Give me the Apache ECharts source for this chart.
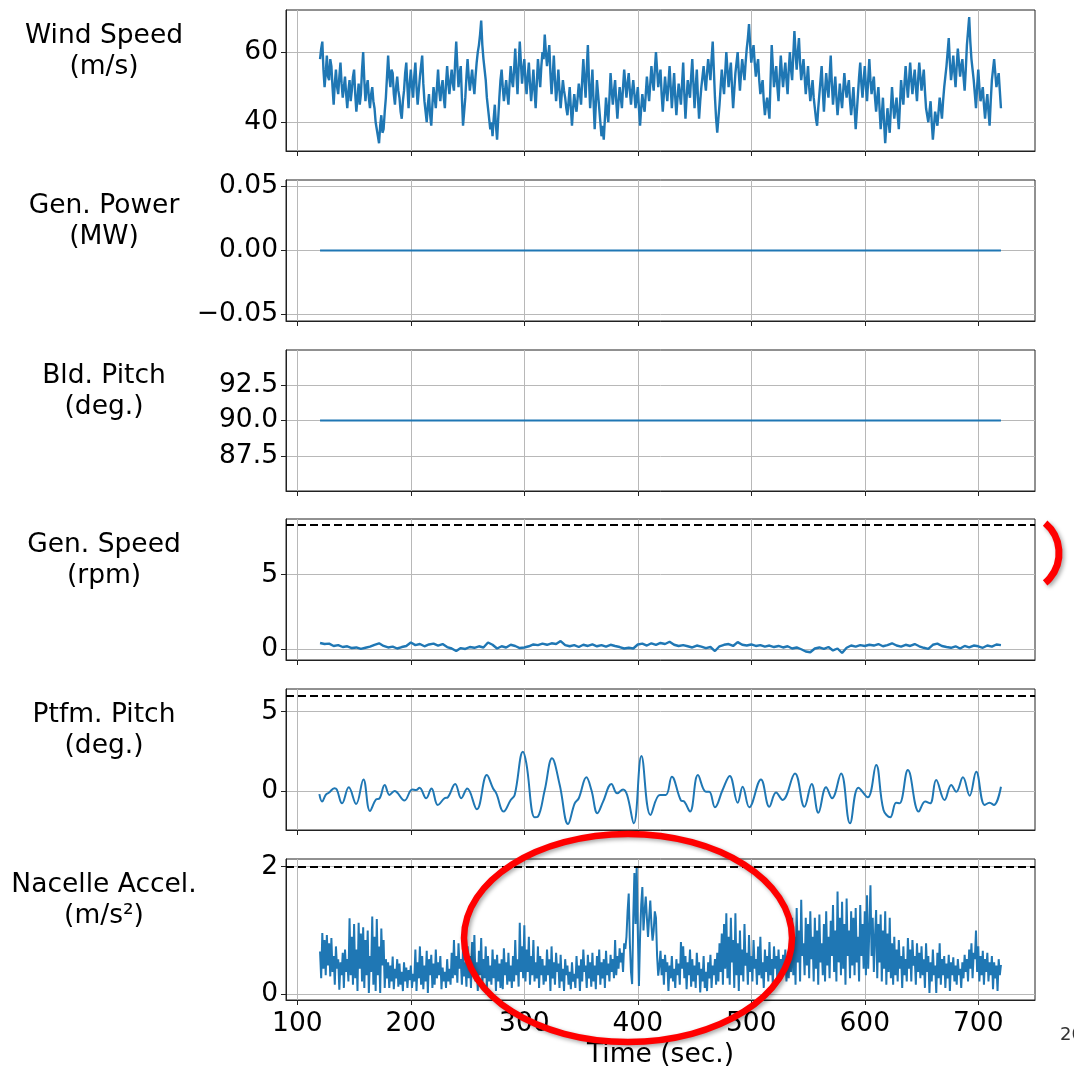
<!DOCTYPE html>
<html>
<head>
<meta charset="utf-8">
<script src="https://cdn.jsdelivr.net/npm/echarts@6/dist/echarts.min.js"></script>
<style>
html, body { margin: 0; padding: 0; background: #fff; }
#chart { width: 1074px; height: 1070px; }
</style>
</head>
<body>
<div id="chart"></div>
<script>
// ---- data ----
const xTicks = [100, 200, 300, 400, 500, 600, 700];

// wind speed (m/s), one value every 1 s from t = 120
const windStart = 120, windStep = 1;
const windSpeed = [
  58, 61, 63, 55, 50, 54, 59, 53, 52, 58, 56, 50, 45, 51, 55, 50, 48, 53, 57, 51,
  47, 50, 53, 48, 44, 49, 52, 46, 49, 53, 55, 48, 43, 47, 51, 45, 48, 55, 60, 52,
  46, 50, 52, 47, 44, 48, 50, 46, 44, 40, 38, 36, 34, 39, 42, 37, 38, 43, 47, 53,
  59, 53, 50, 55, 54, 48, 45, 50, 53, 49, 47, 43, 41, 46, 49, 54, 57, 50, 44, 51,
  55, 50, 47, 53, 57, 50, 45, 49, 53, 56, 59, 51, 46, 43, 40, 45, 48, 42, 39, 45,
  50, 47, 44, 50, 55, 49, 46, 50, 52, 47, 44, 51, 56, 51, 48, 52, 55, 51, 49, 57,
  63, 56, 50, 54, 56, 47, 39, 43, 47, 53, 58, 53, 49, 52, 55, 51, 48, 53, 57, 60,
  62, 65, 69, 62, 58, 55, 52, 47, 44, 41, 38, 40, 36, 41, 45, 39, 35, 41, 47, 52,
  55, 50, 46, 49, 52, 48, 45, 51, 56, 52, 50, 55, 61, 54, 48, 56, 63, 57, 51, 55,
  58, 52, 48, 53, 57, 51, 46, 50, 55, 49, 44, 51, 58, 54, 50, 56, 60, 58, 65, 60,
  56, 59, 62, 54, 48, 53, 59, 52, 46, 50, 55, 49, 44, 48, 52, 49, 47, 44, 42, 46,
  50, 44, 39, 44, 48, 45, 43, 47, 51, 48, 45, 52, 58, 52, 47, 55, 62, 52, 44, 49,
  55, 46, 38, 45, 52, 48, 44, 40, 36, 39, 35, 41, 47, 43, 40, 47, 54, 49, 45, 49,
  52, 46, 41, 46, 50, 47, 44, 50, 55, 51, 47, 51, 54, 49, 45, 49, 52, 48, 44, 47,
  50, 44, 39, 44, 48, 45, 43, 48, 53, 49, 46, 51, 56, 52, 49, 55, 60, 55, 50, 53,
  55, 48, 43, 48, 53, 49, 46, 51, 56, 50, 44, 49, 54, 47, 42, 47, 51, 48, 45, 51,
  57, 48, 41, 47, 52, 49, 47, 53, 58, 51, 44, 50, 55, 47, 41, 46, 50, 53, 56, 52,
  49, 54, 58, 55, 52, 58, 63, 55, 47, 41, 37, 41, 45, 50, 55, 51, 48, 54, 60, 55,
  50, 54, 57, 50, 44, 49, 54, 57, 60, 54, 49, 54, 58, 55, 52, 57, 61, 64, 68, 62,
  57, 60, 62, 57, 53, 56, 58, 52, 48, 50, 52, 46, 42, 45, 47, 44, 41, 52, 62, 56,
  50, 53, 56, 50, 46, 53, 59, 54, 50, 54, 57, 52, 48, 55, 60, 55, 52, 59, 66, 60,
  55, 60, 64, 57, 52, 55, 58, 53, 48, 52, 56, 50, 46, 49, 52, 47, 44, 41, 39, 44,
  48, 52, 56, 49, 43, 49, 54, 50, 47, 53, 59, 51, 45, 49, 53, 47, 42, 46, 51, 47,
  44, 49, 54, 50, 47, 50, 52, 46, 42, 46, 50, 44, 38, 43, 48, 53, 57, 51, 47, 52,
  56, 50, 46, 52, 58, 52, 48, 51, 53, 47, 43, 47, 50, 44, 38, 42, 47, 40, 34, 39,
  44, 40, 37, 44, 50, 45, 41, 44, 47, 42, 38, 45, 52, 48, 45, 51, 56, 51, 47, 52,
  57, 52, 48, 52, 55, 50, 46, 52, 57, 53, 49, 52, 55, 49, 44, 42, 40, 43, 46, 40,
  35, 39, 43, 41, 39, 43, 47, 44, 41, 46, 50, 53, 56, 60, 64, 57, 52, 55, 59, 54,
  50, 56, 61, 57, 53, 56, 58, 53, 49, 55, 62, 66, 70, 63, 58, 55, 52, 48, 44, 50,
  55, 50, 46, 48, 50, 45, 41, 45, 48, 43, 39, 46, 52, 55, 58, 54, 50, 52, 54, 49,
  44
];

// generator power and blade pitch are flat
const genPowerT = [120, 720];
const genPower = [0, 0];
const bldPitchT = [120, 720];
const bldPitch = [90, 90];

// generator speed (rpm), one value every 4 s from t = 120
const genStart = 120, genStep = 4;
const genSpeed = [
  0.42, 0.35, 0.38, 0.22, 0.28, 0.15, 0.2, 0.08, 0.12, 0.02,
  0.1, 0.18, 0.3, 0.4, 0.22, 0.12, 0.18, 0.05, 0.15, 0.22,
  0.45, 0.28, 0.35, 0.2, 0.32, 0.38, 0.25, 0.35, 0.15, 0.05,
  -0.12, 0.08, 0.02, 0.15, 0.1, 0.2, 0.12, 0.45, 0.3, 0.05,
  0.2, 0.12, 0.3, 0.22, 0.08, 0.12, 0.2, 0.32, 0.28, 0.38,
  0.3, 0.4, 0.35, 0.55, 0.28, 0.2, 0.28, 0.15, 0.3, 0.22,
  0.32, 0.2, 0.28, 0.18, 0.3, 0.22, 0.15, 0.05, 0.1, 0.05,
  0.32, 0.38, 0.25, 0.4, 0.3, 0.42, 0.35, 0.5, 0.3, 0.22,
  0.28, 0.2, 0.12, 0.25, 0.18, 0.08, 0.15, -0.12, 0.2, 0.3,
  0.35, 0.22, 0.48, 0.3, 0.25, 0.32, 0.22, 0.28, 0.18, 0.25,
  0.15, 0.22, 0.12, 0.2, 0.05, 0.12, 0.0, -0.15, -0.2, 0.05,
  0.12, 0.02, 0.15, -0.08, 0.05, -0.25, 0.1, 0.25, 0.18, 0.28,
  0.22, 0.3, 0.25, 0.35, 0.2, 0.28, 0.4, 0.25, 0.18, 0.3,
  0.22, 0.35, 0.2, 0.1, 0.02, 0.3, 0.38, 0.22, 0.15, 0.1,
  0.2, 0.05, 0.22, 0.12, 0.25, 0.2, 0.1, 0.25, 0.18, 0.32,
  0.28
];
const genSpeedLimit = 8.32;

// platform pitch (deg), read at its turning points
const ptfmT = [
  119.4, 121.8, 125, 128, 132.6, 134.7, 139.4, 145.3, 151.8, 158.2,
  164, 169.4, 172.4, 177, 181.2, 185.6, 194.4, 201.2, 204.7, 207.6,
  213.5, 218.2, 223.8, 229.7, 232.6, 239.1, 244.4, 249.7, 258.2, 267,
  272.4, 275.3, 281.8, 288, 291.5, 298.8, 301.8, 309.1, 312, 318,
  324.4, 331.2, 338.5, 344.4, 348, 354.7, 359.1, 364.4, 369.4, 376.8,
  381.8, 387, 390.6, 396.5, 403.2, 411.2, 419.4, 424.7, 430, 438,
  441, 446, 453, 460, 463, 468, 474.7, 481, 488, 492.4,
  498.2, 508.5, 515.9, 521.8, 527.6, 538.5, 546.8, 553.2, 559.1, 565.9,
  571.2, 579.1, 587, 594.4, 602.6, 610, 616.5, 622.4, 627.6, 630.6,
  638, 647.6, 653.2, 657.6, 662.9, 670.3, 676.2, 680.6, 686.5, 692.4,
  698.2, 705.6, 710, 713.8, 720
];
const ptfmPitch = [
  -0.2, -0.67, -0.25, -0.1, 0.17, 0.1, -0.78, 0.23, -0.82, 0.73,
  -1.26, -0.53, -0.47, 0.38, -0.25, 0.0, -0.6, 0.1, 0.06, 0.2,
  -0.46, 0.15, -0.88, -0.46, -0.4, 0.44, -0.46, 0.15, -1.15, 1.0,
  0.17, -0.15, -1.3, -0.57, -0.25, 2.48, 1.74, -1.66, -1.62, 0.06,
  2.06, 0.38, -2.08, -0.78, -0.46, 0.86, 0.06, -1.4, -0.67, 0.44,
  -0.15, 0.1, -0.25, -2.04, 2.2, -1.51, -0.25, -0.25, 0.9, -0.6,
  -0.67, -1.3, 1.0, -0.05, -0.05, -1.03, 0.06, 0.95, -0.74, 0.27,
  -1.03, 0.73, -1.0, -0.1, -0.57, 1.11, -1.0, 0.44, -1.37, 0.23,
  -0.46, 1.11, -2.04, 0.21, -0.4, 1.64, -1.2, -1.66, -0.74, -0.78,
  1.32, -1.3, -0.67, -0.78, 0.69, -0.57, 0.38, -0.05, 0.86, -0.3,
  1.22, -0.88, -0.74, -0.88, 0.27
];
const ptfmLimit = 6;

// nacelle acceleration (m/s^2), one value every 1 s from t = 120
const nacStart = 120, nacStep = 1;
const nacelleAcc = [
  0.67, 0.25, 0.96, 0.4, 0.85, 0.3, 0.93, 0.45, 0.8, 0.28,
  0.88, 0.35, 0.6, 0.15, 0.75, 0.4, 0.55, 0.07, 0.5, 0.3,
  0.65, 0.1, 0.7, 0.35, 0.55, 0.2, 1.19, 0.3, 0.9, 0.15,
  1.1, 0.25, 0.7, 0.05, 1.12, 0.4, 0.95, 0.2, 1.05, 0.1,
  0.85, 0.3, 1.0, 0.02, 0.6, 0.35, 1.22, 0.15, 0.9, 0.05,
  1.18, 0.3, 0.75, 0.02, 1.03, 0.45, 0.85, 0.1, 0.55, 0.25,
  0.5, 0.1, 0.45, 0.2, 0.59, 0.08, 0.4, 0.25, 0.55, 0.12,
  0.48, 0.15, 0.35, 0.05, 0.5, 0.2, 0.42, 0.1, 0.38, 0.22,
  0.45, 0.1, 0.32, 0.2, 0.7, 0.05, 0.5, 0.25, 0.75, 0.15,
  0.6, 0.08, 0.45, 0.2, 0.68, 0.02, 0.55, 0.3, 0.62, 0.1,
  0.48, 0.15, 0.7, 0.25, 0.5, 0.3, 0.6, 0.08, 0.42, 0.2,
  0.35, 0.1, 0.55, 0.2, 0.4, 0.15, 0.65, 0.25, 0.85, 0.3,
  0.6, 0.18, 0.8, 0.4, 0.55, 0.15, 0.72, 0.28, 0.5, 0.12,
  0.75, 0.25, 0.6, 0.1, 0.82, 0.3, 0.93, 0.2, 0.5, 0.05,
  0.68, 0.3, 0.88, 0.15, 0.55, 0.25, 0.75, 0.1, 0.6, 0.2,
  0.45, 0.15, 0.7, 0.25, 0.55, 0.05, 0.62, 0.2, 0.48, 0.1,
  0.55, 0.08, 0.72, 0.3, 0.5, 0.15, 0.65, 0.2, 0.45, 0.1,
  0.6, 0.2, 0.85, 0.3, 0.55, 0.12, 1.12, 0.35, 0.75, 0.25,
  1.08, 0.2, 0.7, 0.35, 0.9, 0.15, 0.6, 0.3, 0.85, 0.2,
  0.5, 0.25, 0.75, 0.1, 0.6, 0.3, 0.55, 0.15, 0.45, 0.2,
  0.7, 0.3, 0.55, 0.05, 0.75, 0.25, 0.5, 0.15, 0.65, 0.35,
  0.48, 0.1, 0.62, 0.2, 0.4, 0.05, 0.55, 0.3, 0.45, 0.15,
  0.35, 0.08, 0.5, 0.2, 0.32, 0.1, 0.6, 0.25, 0.45, 0.05,
  0.55, 0.2, 0.7, 0.35, 0.45, 0.1, 0.62, 0.25, 0.5, 0.12,
  0.65, 0.2, 0.45, 0.08, 0.6, 0.3, 0.7, 0.15, 0.5, 0.25,
  0.55, 0.1, 0.68, 0.3, 0.48, 0.2, 0.62, 0.35, 0.55, 0.25,
  0.85, 0.3, 0.6, 0.4, 0.72, 0.5, 0.65, 0.35, 0.8, 0.71,
  0.9, 1.3, 1.58, 0.8, 0.35, 0.16, 1.2, 1.9, 1.1, 2.0,
  1.0, 0.13, 0.9, 1.4, 1.68, 1.0, 1.3, 1.53, 1.2, 0.9,
  1.2, 1.47, 1.1, 0.84, 1.0, 1.3, 1.2, 0.6, 0.29, 0.45,
  0.68, 0.3, 0.55, 0.15, 0.62, 0.35, 0.5, 0.05, 0.45, 0.25,
  0.6, 0.2, 0.4, 0.1, 0.55, 0.3, 0.48, 0.15, 0.82, 0.4,
  0.75, 0.25, 0.6, 0.08, 0.5, 0.3, 0.7, 0.12, 0.55, 0.2,
  0.45, 0.1, 0.65, 0.3, 0.5, 0.03, 0.4, 0.2, 0.6, 0.1,
  0.35, 0.05, 0.5, 0.25, 0.62, 0.1, 0.45, 0.3, 0.55, 0.15,
  0.65, 0.2, 0.8, 0.35, 0.95, 0.15, 1.1, 0.4, 1.27, 0.25,
  0.9, 0.15, 1.2, 0.5, 0.85, 0.1, 1.27, 0.3, 0.8, 0.05,
  1.0, 0.3, 0.7, 0.2, 1.1, 0.45, 0.65, 0.15, 0.93, 0.35,
  0.6, 0.2, 0.85, 0.4, 0.55, 0.15, 0.75, 0.3, 0.9, 0.25,
  0.5, 0.1, 0.7, 0.35, 0.6, 0.2, 0.82, 0.3, 0.55, 0.15,
  0.75, 0.4, 0.6, 0.2, 0.7, 0.3, 0.55, 0.25, 0.62, 0.35,
  0.7, 0.2, 0.6, 0.25, 0.8, 0.35, 1.2, 0.3, 0.9, 0.15,
  1.35, 0.5, 1.0, 0.2, 1.48, 0.6, 0.8, 0.3, 1.2, 0.45,
  1.1, 0.25, 1.3, 0.55, 0.9, 0.2, 1.2, 0.4, 1.0, 0.15,
  1.25, 0.5, 0.8, 0.3, 1.1, 0.2, 1.3, 0.45, 0.9, 0.25,
  1.15, 0.6, 1.4, 0.35, 1.0, 0.2, 1.61, 0.5, 1.2, 0.3,
  1.45, 0.4, 1.1, 0.15, 1.5, 0.6, 1.0, 0.25, 1.3, 0.45,
  1.2, 0.3, 1.35, 0.5, 0.9, 0.2, 1.4, 0.6, 1.1, 0.4,
  1.3, 0.3, 1.55, 0.4, 1.0, 1.71, 0.6, 1.2, 0.35, 0.9,
  1.32, 0.25, 1.1, 0.5, 1.25, 0.2, 1.0, 0.4, 1.3, 0.15,
  0.95, 0.35, 1.2, 0.25, 0.8, 0.15, 0.9, 0.3, 0.7, 0.2,
  0.85, 0.4, 0.6, 0.1, 0.75, 0.3, 0.55, 0.2, 0.88, 0.4,
  0.7, 0.2, 0.85, 0.45, 0.6, 0.15, 0.8, 0.35, 0.65, 0.25,
  0.75, 0.3, 0.55, 0.1, 0.8, 0.35, 0.6, 0.02, 0.5, 0.2,
  0.7, 0.3, 0.45, 0.02, 0.65, 0.25, 0.8, 0.15, 0.55, 0.3,
  0.6, 0.1, 0.48, 0.25, 0.62, 0.05, 0.5, 0.3, 0.58, 0.2,
  0.45, 0.15, 0.55, 0.3, 0.4, 0.1, 0.5, 0.25, 0.62, 0.35,
  0.55, 0.2, 0.7, 0.4, 0.8, 0.25, 0.65, 0.55, 1.0, 0.35,
  0.75, 0.2, 0.6, 0.3, 0.68, 0.15, 0.55, 0.35, 0.65, 0.2,
  0.5, 0.3, 0.6, 0.08, 0.5, 0.25, 0.45, 0.05, 0.55, 0.3,
  0.46
];
const nacLimit = 2;

// panel labels and y ticks
const yLabels = ['Wind Speed\n(m/s)', 'Gen. Power\n(MW)', 'Bld. Pitch\n(deg.)',
                 'Gen. Speed\n(rpm)', 'Ptfm. Pitch\n(deg.)', 'Nacelle Accel.\n(m/s\u00b2)'];
const yTicks = [[40, 60], [-0.05, 0, 0.05], [87.5, 90, 92.5], [0, 5], [0, 5], [0, 2]];
const yRanges = [[31.8, 72], [-0.055, 0.055], [85.05, 94.95], [-0.72, 8.73], [-2.46, 6.43], [-0.09, 2.12]];
const yDecimals = [0, 2, 1, 0, 0, 0];

// ---- chart ----
const font = 'DejaVu Sans';
const fs = 26.5;
const blue = '#1f77b4';
const panelTops = [10, 180, 350, 519, 689, 859];
const panelH = 141;

function regular(start, step, values) {
  return values.map((v, i) => [start + i * step, v]);
}
function paired(ts, vs) {
  return ts.map((t, i) => [t, vs[i]]);
}
function fmt(v, d) {
  const s = Math.abs(v).toFixed(d);
  return (v < 0 ? '\u2212' : '') + s;
}

const grids = panelTops.map(t => ({
  left: 286, right: 39, top: t, height: panelH,
  show: true, borderColor: '#222', borderWidth: 1,
  outerBoundsMode: 'none'
}));

const xAxes = panelTops.map((t, i) => ({
  type: 'value', gridIndex: i, min: 90, max: 750,
  axisLine: { show: true, onZero: false, lineStyle: { color: '#222', width: 1 } },
  axisTick: { show: true, length: 5, lineStyle: { color: '#222', width: 1 }, customValues: xTicks },
  axisLabel: { show: i === 5, customValues: xTicks, fontSize: fs, fontFamily: font, color: '#000', margin: 11 },
  splitLine: { show: true, lineStyle: { color: '#b8b8b8', width: 1 } },
  name: i === 5 ? 'Time (sec.)' : '',
  nameLocation: 'middle', nameGap: 42,
  nameTextStyle: { fontSize: fs, fontFamily: font, color: '#000' }
}));

const yAxes = panelTops.map((t, i) => ({
  type: 'value', gridIndex: i, min: yRanges[i][0], max: yRanges[i][1],
  axisLine: { show: true, onZero: false, lineStyle: { color: '#222', width: 1 } },
  axisTick: { show: true, length: 5, lineStyle: { color: '#222', width: 1 }, customValues: yTicks[i] },
  axisLabel: {
    customValues: yTicks[i], fontSize: fs, fontFamily: font, color: '#000', margin: 8,
    formatter: v => fmt(v, yDecimals[i])
  },
  splitLine: { show: true, lineStyle: { color: '#b8b8b8', width: 1 } }
}));

function limitLine(v) {
  return {
    symbol: 'none', silent: true, label: { show: false },
    lineStyle: { color: '#000', type: [8, 4], width: 2 },
    data: [{ yAxis: v }]
  };
}

function lineSeries(i, data, extra) {
  return Object.assign({
    type: 'line', xAxisIndex: i, yAxisIndex: i, data: data,
    showSymbol: false, symbol: 'none',
    lineStyle: { color: blue, width: 2 }, itemStyle: { color: blue },
    z: 3
  }, extra || {});
}

const series = [
  lineSeries(0, regular(windStart, windStep, windSpeed), { lineStyle: { color: blue, width: 2.4 } }),
  lineSeries(1, paired(genPowerT, genPower)),
  lineSeries(2, paired(bldPitchT, bldPitch)),
  lineSeries(3, regular(genStart, genStep, genSpeed), { lineStyle: { color: blue, width: 2.4 }, markLine: limitLine(genSpeedLimit) }),
  lineSeries(4, paired(ptfmT, ptfmPitch), { smooth: 0.4, markLine: limitLine(ptfmLimit) }),
  lineSeries(5, regular(nacStart, nacStep, nacelleAcc), { markLine: limitLine(nacLimit) })
];

const labelGraphics = yLabels.map((txt, i) => ({
  type: 'text', x: 104, y: panelTops[i] + panelH / 2 + 2,
  style: {
    text: txt, align: 'center', verticalAlign: 'bottom',
    fontSize: fs, fontFamily: font, lineHeight: 31, fill: '#000'
  }
}));

const redMarks = [
  {
    type: 'ellipse', z: 100,
    shape: { cx: 628, cy: 938, rx: 164, ry: 104 },
    style: {
      fill: 'none', stroke: '#ff0000', lineWidth: 6.5,
      shadowBlur: 4, shadowColor: 'rgba(0,0,0,0.35)', shadowOffsetX: 2, shadowOffsetY: 2
    }
  },
  {
    type: 'arc', z: 100,
    shape: { cx: 1020, cy: 553, r: 39, startAngle: -0.87, endAngle: 0.87 },
    style: {
      fill: 'none', stroke: '#ff0000', lineWidth: 7,
      shadowBlur: 4, shadowColor: 'rgba(0,0,0,0.35)', shadowOffsetX: 2, shadowOffsetY: 2
    }
  },
  {
    type: 'text', x: 1060, y: 1044, z: 100,
    style: { text: '20', fontSize: 18, fontFamily: font, fill: '#333', verticalAlign: 'bottom' }
  }
];

const chart = echarts.init(document.getElementById('chart'), null, { renderer: 'canvas' });
chart.setOption({
  backgroundColor: '#fff',
  animation: false,
  grid: grids,
  xAxis: xAxes,
  yAxis: yAxes,
  series: series,
  graphic: labelGraphics.concat(redMarks)
});
</script>
</body>
</html>
